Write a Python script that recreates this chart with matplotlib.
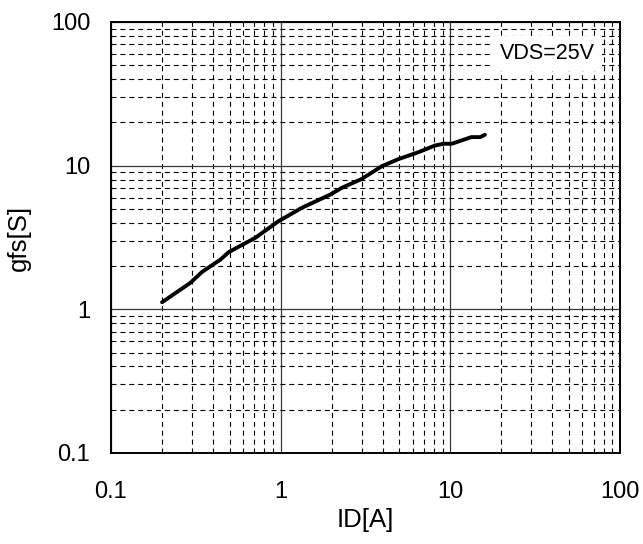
import matplotlib
matplotlib.use('Agg')
import matplotlib.pyplot as plt
from matplotlib.ticker import LogLocator, FixedLocator, FixedFormatter, NullFormatter

# ID [A] vs gfs [S]
id_a = [0.2, 0.294, 0.344, 0.442, 0.494, 0.71, 0.97, 1.33, 1.96, 2.29, 3.0,
        3.94, 4.94, 6.48, 8.12, 9.1, 10.2, 13.3, 15.0, 16.0]
gfs_s = [1.12, 1.53, 1.82, 2.22, 2.5, 3.15, 4.1, 5.08, 6.29, 7.0, 8.07,
         9.9, 11.1, 12.4, 13.8, 14.2, 14.2, 15.8, 15.8, 16.4]

decades = [0.1, 1, 10, 100]
decade_labels = ['0.1', '1', '10', '100']

plt.rcParams['font.family'] = ['Liberation Sans', 'DejaVu Sans']

fig = plt.figure(figsize=(6.43, 5.44), dpi=100)
ax = fig.add_axes([0.1726, 0.1673, 0.7916, 0.7923])

ax.set_xscale('log')
ax.set_yscale('log')
ax.set_xlim(0.1, 100)
ax.set_ylim(0.1, 100)

for axis in (ax.xaxis, ax.yaxis):
    axis.set_major_locator(FixedLocator(decades))
    axis.set_major_formatter(FixedFormatter(decade_labels))
    axis.set_minor_locator(LogLocator(base=10, subs=range(2, 10)))
    axis.set_minor_formatter(NullFormatter())

ax.grid(which='minor', color='black', linestyle=(0, (4.5, 3.5)), linewidth=0.8)
ax.grid(which='major', color='#383838', linestyle='-', linewidth=0.9)
ax.tick_params(which='both', length=0, labelsize=17)
ax.tick_params(axis='x', pad=20)
ax.tick_params(axis='y', pad=15)

ax.plot(id_a, gfs_s, color='black', linewidth=2.8, solid_capstyle='round', zorder=3)

ax.text(0.857, 0.927, 'VDS=25V', transform=ax.transAxes, fontsize=15.5,
        ha='center', va='center', zorder=4,
        bbox=dict(facecolor='white', edgecolor='none', pad=5))

for sp in ax.spines.values():
    sp.set_linewidth(1.4)
    sp.set_color('black')

ax.set_xlabel('ID[A]', fontsize=18.5, labelpad=4)
ax.set_ylabel('gfs[S]', fontsize=18.5, labelpad=14)

fig.savefig('out.png', dpi=100)
